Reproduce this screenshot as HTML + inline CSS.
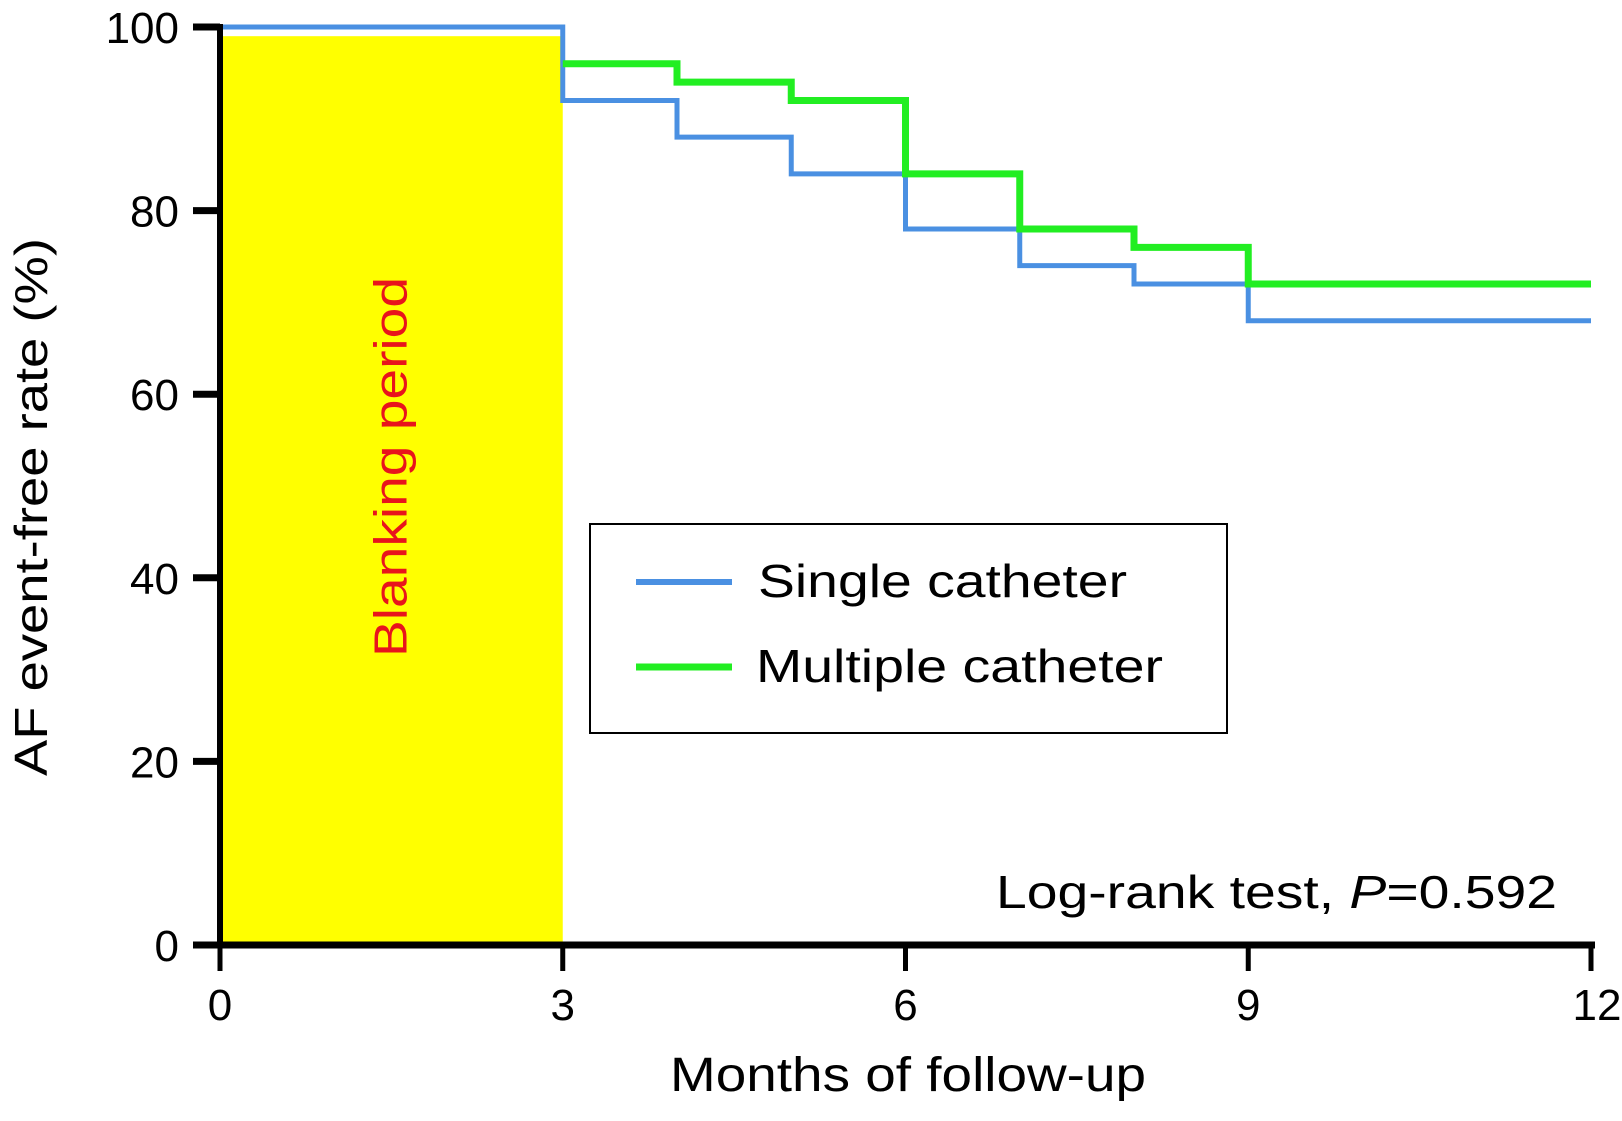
<!DOCTYPE html>
<html><head><meta charset="utf-8"><style>
html,body{margin:0;padding:0;background:#fff;}
svg{display:block;font-family:"Liberation Sans",sans-serif;}
</style></head><body>
<svg id="chart" width="1622" height="1121" viewBox="0 0 1622 1121" xmlns="http://www.w3.org/2000/svg">
<g id="plot"></g>
</svg>
<script>
const monthsSingle = [0, 3, 4, 5, 6, 7, 8, 9, 12];
const rateSingle = [100, 92, 88, 84, 78, 74, 72, 68, 68];
const monthsMultiple = [3, 4, 5, 6, 7, 8, 9, 12];
const rateMultiple = [96, 94, 92, 84, 78, 76, 72, 72];
const xTicks = [0, 3, 6, 9, 12];
const yTicks = [0, 20, 40, 60, 80, 100];
const blankingEnd = 3;
const blankingTop = 99;

const X0 = 220, X1 = 1591, Y0 = 945, Y1 = 27;
const sx = v => X0 + (X1 - X0) * v / 12;
const sy = v => Y0 - (Y0 - Y1) * v / 100;
const NS = 'http://www.w3.org/2000/svg';
const g = document.getElementById('plot');
function mk(tag, attrs, parent) {
  const e = document.createElementNS(NS, tag);
  for (const k in attrs) e.setAttribute(k, attrs[k]);
  (parent || g).appendChild(e);
  return e;
}

const blank = mk('rect', {x: sx(0), y: sy(blankingTop), width: sx(blankingEnd) - sx(0), height: sy(0) - sy(blankingTop), fill: '#ffff00'});



const bt = mk('text', {x: 0, y: 0, transform: `translate(${sx(1.5)+15},467) rotate(-90)`, 'text-anchor': 'middle', 'font-size': 46, fill: '#e8141c', textLength: 380, lengthAdjust: 'spacingAndGlyphs'});
bt.textContent = 'Blanking period';



function stepPath(xs, ys) {
  let d = `M${sx(xs[0])},${sy(ys[0])}`;
  for (let i = 1; i < xs.length; i++) {
    d += ` H${sx(xs[i])}`;
    if (i < xs.length - 1 || ys[i] !== ys[i-1]) d += ` V${sy(ys[i])}`;
  }
  return d;
}
const ls = mk('path', {d: stepPath(monthsSingle, rateSingle), fill: 'none', stroke: '#4a90e2', 'stroke-width': 5});


const lm = mk('path', {d: stepPath(monthsMultiple, rateMultiple), fill: 'none', stroke: '#22ee22', 'stroke-width': 7});



const ya = mk('line', {x1: X0, y1: Y1 - 3, x2: X0, y2: Y0 + 3, stroke: '#000', 'stroke-width': 6});


const xa = mk('line', {x1: X0 - 4, y1: Y0, x2: X1 + 4, y2: Y0, stroke: '#000', 'stroke-width': 7});



yTicks.forEach(v => {
  const t = mk('line', {x1: X0 - 27, x2: X0, y1: sy(v), y2: sy(v), stroke: '#000', 'stroke-width': 7});
  
  
  const l = mk('text', {x: 179, y: sy(v) + 16, 'text-anchor': 'end', 'font-size': 44});
  l.textContent = v;
  
  
});
xTicks.forEach(v => {
  const t = mk('line', {x1: sx(v), x2: sx(v), y1: Y0, y2: Y0 + 26, stroke: '#000', 'stroke-width': 5});
  
  
  const l = mk('text', {x: sx(v) + (v === 12 ? 6 : 0), y: 1020, 'text-anchor': 'middle', 'font-size': 44});
  l.textContent = v;
  
  
});

const yt = mk('text', {x: 0, y: 0, transform: 'translate(47,507) rotate(-90)', 'text-anchor': 'middle', 'font-size': 46, textLength: 538, lengthAdjust: 'spacingAndGlyphs'});
yt.textContent = 'AF event-free rate (%)';


const xt = mk('text', {x: 908, y: 1091, 'text-anchor': 'middle', 'font-size': 48, textLength: 476, lengthAdjust: 'spacingAndGlyphs'});
xt.textContent = 'Months of follow-up';



const lr = mk('text', {x: 1557, y: 908, 'text-anchor': 'end', 'font-size': 46, textLength: 561, lengthAdjust: 'spacingAndGlyphs'});
lr.innerHTML = 'Log-rank test, <tspan font-style="italic">P</tspan>=0.592';



const lg = mk('g', {});


mk('rect', {x: 590, y: 524, width: 637, height: 209, fill: '#fff', stroke: '#000', 'stroke-width': 2}, lg);
const e1 = mk('g', {}, lg);


mk('line', {x1: 636, x2: 732, y1: 582, y2: 582, stroke: '#4a90e2', 'stroke-width': 6}, e1);
const t1 = mk('text', {x: 758, y: 597, 'font-size': 46, textLength: 369, lengthAdjust: 'spacingAndGlyphs'}, e1);
t1.textContent = 'Single catheter';
const e2 = mk('g', {}, lg);


mk('line', {x1: 636, x2: 732, y1: 667, y2: 667, stroke: '#22ee22', 'stroke-width': 7}, e2);
const t2 = mk('text', {x: 756, y: 682, 'font-size': 46, textLength: 407, lengthAdjust: 'spacingAndGlyphs'}, e2);
t2.textContent = 'Multiple catheter';
</script>
</body></html>
